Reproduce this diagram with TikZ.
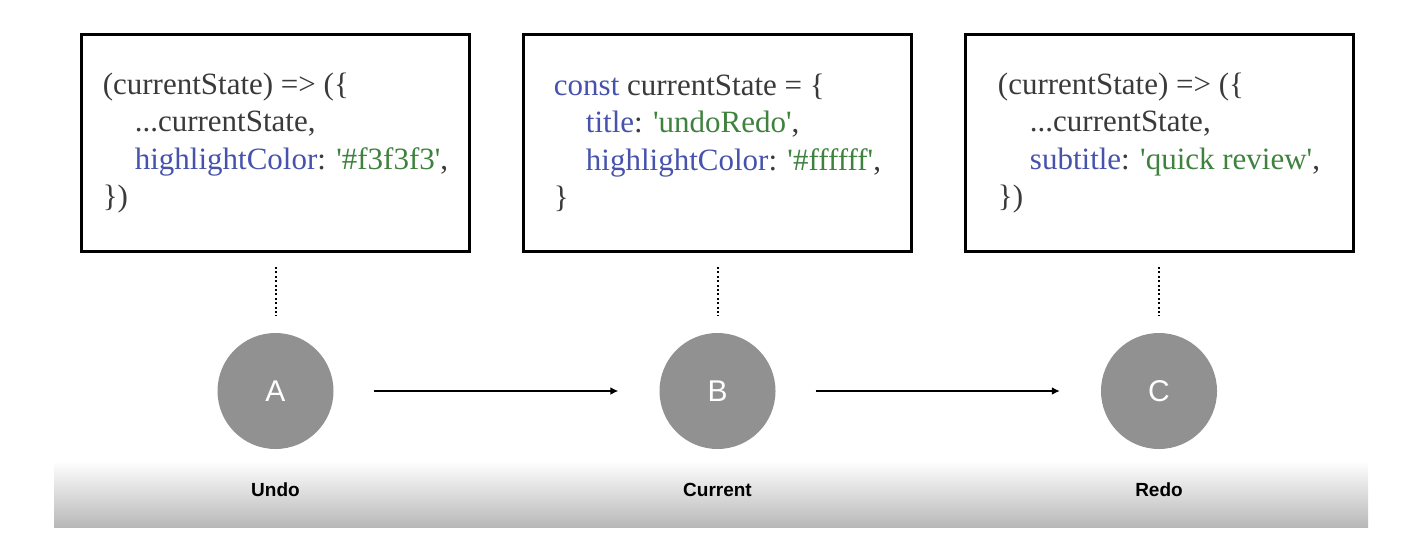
\documentclass[tikz,border=0pt]{standalone}
\usepackage{fontspec}
\setmainfont{Liberation Serif}
\newfontfamily\codefont{Liberation Serif}
\newfontfamily\labelfont{Liberation Sans}
\usetikzlibrary{arrows.meta}

\definecolor{codegray}{RGB}{58, 58, 58}
\definecolor{keyblue}{RGB}{70, 82, 172}
\definecolor{strgreen}{RGB}{62, 130, 62}
\definecolor{nodegray}{RGB}{145, 145, 145}
\definecolor{bandgray}{RGB}{184, 184, 184}

\newcommand{\keyname}[1]{\textcolor{keyblue}{#1}}
\newcommand{\strval}[1]{\textcolor{strgreen}{#1}}
\newcommand{\ind}{\hspace*{32pt}}

\begin{document}
\begin{tikzpicture}[> = {Latex[length = 8pt, width = 8pt]}, x = 1pt, y = -1pt,
	codebox/.style = {draw, line width = 3pt, minimum width = 388pt, minimum height = 217pt,
		align = left, text = codegray, font = \codefont\fontsize{31}{37.5}\selectfont},
	state/.style = {circle, fill = nodegray, minimum size = 116pt, inner sep = 0pt,
		text = white, font = \labelfont\fontsize{30}{30}\selectfont},
	caption/.style = {anchor = base, font = \labelfont\bfseries\fontsize{19}{19}\selectfont},
	dotline/.style = {line width = 2pt, dash pattern = on 2pt off 2.4pt},
	flow/.style = {->, line width = 1.6pt, shorten < = 40pt, shorten > = 41pt}]

	\useasboundingbox (0, 0) rectangle (1420, 554);

	% Shaded strip behind the labels

	\shade [top color = white, bottom color = bandgray] (54, 461) rectangle (1368, 527);

	% State snippets

	\node [codebox] (undoCode) at (275.5, 143) {(currentState) => (\{\\
		\ind ...currentState,\\
		\ind\keyname{highlightColor}: \strval{'\#f3f3f3'},\\
		\})};
	\node [codebox] (currentCode) at (717.5, 143) {\keyname{const} currentState = \{\\
		\ind\keyname{title}: \strval{'undoRedo'},\\
		\ind\keyname{highlightColor}: \strval{'\#ffffff'},\\
		\}};
	\node [codebox] (redoCode) at (1159, 143) {(currentState) => (\{\\
		\ind ...currentState,\\
		\ind\keyname{subtitle}: \strval{'quick review'},\\
		\})};

	% History states

	\node [state] (A) at (275.5, 391) {A};
	\node [state] (B) at (717.5, 391) {B};
	\node [state] (C) at (1159, 391) {C};

	\node [caption] (undo) at (275.5, 496) {Undo};
	\node [caption] (current) at (717.5, 496) {Current};
	\node [caption] (redo) at (1159, 496) {Redo};

	% Links between snippets and states

	\begin{scope}[dotline]

		\draw ([yshift = -14pt] undoCode.south) -- ([yshift = 17pt] A.north);
		\draw ([yshift = -14pt] currentCode.south) -- ([yshift = 17pt] B.north);
		\draw ([yshift = -14pt] redoCode.south) -- ([yshift = 17pt] C.north);

	\end{scope}

	\draw [flow] (A) -- (B);
	\draw [flow] (B) -- (C);

\end{tikzpicture}
\end{document}
